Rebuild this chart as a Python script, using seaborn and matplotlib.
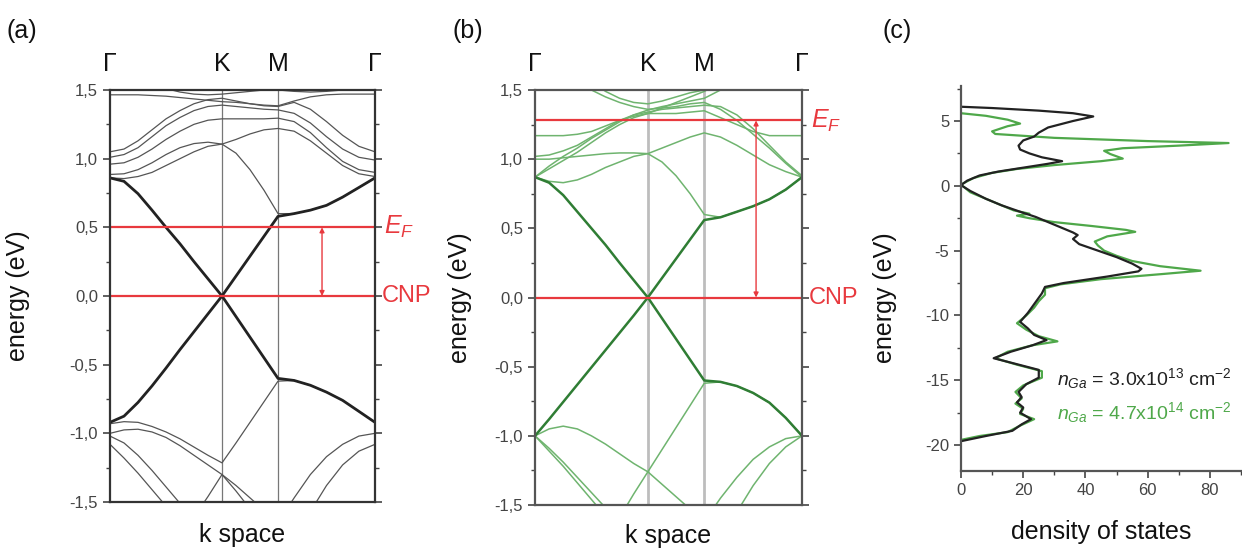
import matplotlib
matplotlib.use("Agg")
import matplotlib.pyplot as plt
from matplotlib.ticker import MultipleLocator, FuncFormatter
from matplotlib.transforms import blended_transform_factory
import pandas as pd
import seaborn as sns

sns.set_theme(style="ticks")
plt.rcParams["font.family"] = ["Liberation Sans", "DejaVu Sans"]
plt.rcParams["mathtext.fontset"] = "custom"
plt.rcParams["mathtext.rm"] = "Liberation Sans"
plt.rcParams["mathtext.it"] = "Liberation Sans:italic"
plt.rcParams["mathtext.bf"] = "Liberation Sans:bold"
plt.rcParams["axes.unicode_minus"] = False

# ---------------------------------------------------------------------------
# k path  Γ -> K -> M -> Γ  (|ΓK| = 1, |KM| = 0.5, |MΓ| = 0.866)
k_points = [0.0, 0.125, 0.25, 0.375, 0.5, 0.625, 0.75, 0.875, 1.0,
            1.125, 1.25, 1.375, 1.5,
            1.644, 1.789, 1.933, 2.077, 2.222, 2.366]
sym_k = [0.0, 1.0, 1.5, 2.366]
sym_labels = ["Γ", "K", "M", "Γ"]

# (a) low Ga coverage: Dirac bands and neighbouring bands (eV)
a_dirac_cb = [0.86, 0.835, 0.745, 0.625, 0.50, 0.38, 0.25, 0.125, 0.0,
              0.145, 0.29, 0.435, 0.58,
              0.60, 0.625, 0.66, 0.72, 0.79, 0.86]
a_dirac_vb = [-0.92, -0.875, -0.775, -0.655, -0.525, -0.39, -0.26, -0.13, 0.0,
              -0.15, -0.30, -0.45, -0.60,
              -0.615, -0.65, -0.70, -0.76, -0.84, -0.92]
a_bands = {
    "u1": [1.05, 1.07, 1.13, 1.21, 1.29, 1.35, 1.40, 1.43, 1.44,
           1.42, 1.40, 1.385, 1.38, 1.41, 1.36, 1.27, 1.17, 1.09, 1.05],
    "u2": [1.01, 1.03, 1.08, 1.16, 1.24, 1.30, 1.35, 1.38, 1.39,
           1.38, 1.37, 1.36, 1.355, 1.33, 1.26, 1.16, 1.07, 1.01, 0.99],
    "u3": [0.96, 0.97, 1.01, 1.07, 1.14, 1.20, 1.25, 1.28, 1.29,
           1.29, 1.29, 1.29, 1.295, 1.27, 1.19, 1.08, 0.98, 0.92, 0.90],
    "u4": [0.885, 0.89, 0.92, 0.97, 1.03, 1.08, 1.11, 1.12, 1.106,
           1.14, 1.18, 1.21, 1.22, 1.20, 1.13, 1.04, 0.95, 0.89, 0.87],
    "u5": [0.86, 0.855, 0.87, 0.90, 0.95, 1.00, 1.05, 1.09, 1.106,
           1.04, 0.92, 0.77, 0.60, 0.60, 0.625, 0.66, 0.72, 0.79, 0.86],
    "u6": [1.465, 1.465, 1.465, 1.46, 1.455, 1.445, 1.435, 1.425, 1.415,
           1.41, 1.40, 1.39, 1.385, 1.42, 1.45, 1.465, 1.47, 1.47, 1.47],
    "u7": [1.62, 1.60, 1.57, 1.54, 1.51, 1.485, 1.47, 1.465, 1.47,
           1.48, 1.49, 1.50, 1.50, 1.49, 1.485, 1.49, 1.50, 1.52, 1.55],
    "l1": [-0.93, -0.915, -0.92, -0.95, -0.99, -1.04, -1.10, -1.16, -1.215,
           -1.07, -0.92, -0.77, -0.62, -0.615, -0.65, -0.70, -0.76, -0.84, -0.92],
    "l2": [-1.00, -0.975, -0.97, -0.99, -1.03, -1.09, -1.16, -1.23, -1.30,
           -1.38, -1.47, -1.56, -1.65, -1.47, -1.30, -1.17, -1.08, -1.02, -1.00],
    "l3": [-1.02, -1.07, -1.16, -1.27, -1.39, -1.51, -1.63, -1.75, -1.87,
           -1.93, -1.98, -2.02, -2.05, -1.80, -1.57, -1.38, -1.23, -1.13, -1.08],
    "l4": [-1.08, -1.18, -1.29, -1.41, -1.53, -1.65, -1.77, -1.89, -2.01,
           -2.10, -2.20, -2.30, -2.40, -2.40, -2.35, -2.25, -2.10, -1.95, -1.80],
    "l5": [-2.55, -2.40, -2.24, -2.08, -1.93, -1.77, -1.61, -1.46, -1.30,
           -1.42, -1.55, -1.68, -1.80, -1.95, -2.10, -2.25, -2.40, -2.55, -2.70],
}

# (b) high Ga coverage
b_dirac_cb = [0.87, 0.83, 0.74, 0.62, 0.50, 0.38, 0.25, 0.125, 0.0,
              0.14, 0.28, 0.42, 0.56,
              0.58, 0.62, 0.66, 0.71, 0.78, 0.87]
b_dirac_vb = [-1.0, -0.88, -0.755, -0.63, -0.505, -0.38, -0.255, -0.13, 0.0,
              -0.15, -0.30, -0.45, -0.60,
              -0.61, -0.64, -0.69, -0.76, -0.87, -1.0]
b_bands = {
    "g1": [0.87, 0.95, 1.02, 1.08, 1.15, 1.21, 1.27, 1.32, 1.355,
           1.38, 1.40, 1.42, 1.44, 1.50, 1.56, 1.62, 1.68, 1.74, 1.80],
    "g2": [0.87, 0.93, 0.99, 1.05, 1.12, 1.19, 1.25, 1.30, 1.33,
           1.37, 1.41, 1.45, 1.49, 1.55, 1.62, 1.69, 1.76, 1.83, 1.90],
    "g3": [0.87, 0.84, 0.83, 0.85, 0.89, 0.94, 0.98, 1.02, 1.04,
           1.08, 1.12, 1.16, 1.19, 1.16, 1.10, 1.03, 0.96, 0.91, 0.87],
    "g4": [1.0, 1.0, 1.01, 1.02, 1.03, 1.04, 1.045, 1.045, 1.04,
           0.98, 0.88, 0.75, 0.60, 0.58, 0.62, 0.66, 0.71, 0.78, 0.87],
    "g5": [1.17, 1.17, 1.17, 1.18, 1.20, 1.24, 1.28, 1.31, 1.33,
           1.33, 1.33, 1.34, 1.35, 1.30, 1.25, 1.20, 1.17, 1.17, 1.17],
    "g6": [1.75, 1.70, 1.63, 1.56, 1.50, 1.45, 1.41, 1.38, 1.36,
           1.37, 1.38, 1.40, 1.41, 1.36, 1.28, 1.18, 1.08, 0.97, 0.87],
    "g7": [1.85, 1.80, 1.73, 1.65, 1.56, 1.49, 1.44, 1.41, 1.40,
           1.42, 1.45, 1.48, 1.50, 1.55, 1.60, 1.65, 1.70, 1.75, 1.80],
    "g8": [1.02, 1.03, 1.06, 1.10, 1.16, 1.22, 1.28, 1.32, 1.34,
           1.36, 1.37, 1.38, 1.39, 1.38, 1.32, 1.22, 1.10, 0.98, 0.88],
    "m1": [-1.0, -0.95, -0.93, -0.95, -1.0, -1.06, -1.13, -1.20, -1.26,
           -1.35, -1.44, -1.53, -1.62, -1.45, -1.30, -1.17, -1.08, -1.02, -1.0],
    "m2": [-2.56, -2.40, -2.24, -2.08, -1.91, -1.75, -1.59, -1.42, -1.26,
           -1.10, -0.94, -0.78, -0.62, -0.61, -0.64, -0.69, -0.76, -0.87, -1.0],
    "m3": [-1.0, -1.09, -1.19, -1.30, -1.41, -1.52, -1.63, -1.74, -1.85,
           -1.95, -2.05, -2.15, -2.20, -1.85, -1.55, -1.36, -1.20, -1.08, -1.0],
    "m4": [-1.0, -1.11, -1.22, -1.34, -1.46, -1.58, -1.70, -1.82, -1.94,
           -2.05, -2.15, -2.25, -2.35, -2.45, -2.55, -2.65, -2.75, -2.85, -2.95],
}

# Fermi levels and arrow positions
a_fermi = 0.5
b_fermi = 1.28
a_arrow_k = 1.893
b_arrow_k = 1.959

# (c) density of states (energy in eV, DOS in states/eV)
dos_e_low = [6.1, 6.0, 5.8, 5.6, 5.35, 5.0, 4.5, 4.1, 3.8, 3.5, 3.1, 2.8, 2.5,
             2.2, 1.9, 1.7, 1.4, 1.1, 0.8, 0.4, 0.05, -0.4, -1.0, -1.5, -2.0,
             -2.4, -2.8, -3.2, -3.6, -3.8, -4.1, -4.5, -5.0, -5.5, -6.0, -6.4,
             -6.6, -7.0, -7.5, -7.8, -8.3, -8.8, -9.3, -9.8, -10.5, -11.0,
             -11.5, -11.9, -12.3, -12.8, -13.3, -13.7, -14.2, -14.8, -15.3,
             -15.9, -16.3, -16.7, -17.1, -17.5, -18.0, -18.4, -18.9, -19.3,
             -19.7]
dos_low = [0, 10, 25, 36, 42.5, 36, 28, 25, 23.5, 20, 18.5, 19, 22,
           26, 32.5, 28, 20, 12, 6, 2, 0, 3, 8, 13, 19,
           24, 28, 32, 36, 37.5, 36, 38, 44, 50, 55, 58,
           57, 47, 33, 27, 26, 24.5, 23, 21.5, 19, 21.5,
           23.5, 27.5, 23, 16, 10.5, 17, 25, 25, 21,
           18.5, 19.5, 18, 20, 19, 22.5, 19.5, 16.5, 8,
           0]
dos_e_high = [5.6, 5.4, 5.1, 4.8, 4.6, 4.2, 4.0, 3.7, 3.45, 3.3, 3.1, 2.9,
              2.7, 2.45, 2.1, 1.9, 1.6, 1.3, 1.0, 0.6, 0.1, -0.5, -1.0, -1.5,
              -1.9, -2.15, -2.3, -2.5, -2.8, -3.1, -3.4, -3.55, -3.9, -4.3,
              -4.6, -5.0, -5.4, -5.8, -6.2, -6.55, -6.8, -7.2, -7.6, -7.9,
              -8.4, -8.9, -9.4, -10.0, -10.6, -11.1, -11.6, -12.0, -12.3,
              -12.8, -13.3, -13.8, -14.3, -14.8, -15.4, -15.9, -16.4, -16.8,
              -17.2, -17.6, -18.0, -18.5, -19.0, -19.3, -19.6]
dos_high = [0, 8, 15, 19, 15, 10, 11, 30, 60, 86, 70, 52,
            46, 48, 52, 45, 30, 18, 10, 4, 0, 3, 8, 13,
            17, 22, 18, 22, 30, 42, 53, 56, 47, 43,
            44, 46, 50, 55, 64, 77, 65, 45, 32, 27,
            27, 25, 23.5, 21, 18, 21, 25, 31, 23,
            15, 11, 18, 26, 26, 20, 17.5, 19.5, 17.5,
            20, 19, 23.5, 19, 15, 6, 0]
label_low = r"$n_{Ga}$ = 3.0x10$^{13}$ cm$^{-2}$"
label_high = r"$n_{Ga}$ = 4.7x10$^{14}$ cm$^{-2}$"

RED = "#e8393e"
TICK_COLOR = "#444444"
SPINE_COLOR = "#333333"


def band_frame(bands):
    rows = []
    for name, energies in bands.items():
        for k, e in zip(k_points, energies):
            rows.append({"band": name, "k": k, "E": e})
    return pd.DataFrame(rows)


def comma(v, _pos):
    return f"{v:.1f}".replace(".", ",")


def draw_panel(ax, thin, thick, thin_color, thick_color, thin_lw, thick_lw,
               sym_color, sym_lw, fermi, arrow_k, frame_color):
    ax.set_xlim(sym_k[0], sym_k[-1])
    ax.set_ylim(-1.5, 1.5)
    for k in sym_k[1:3]:
        ax.axvline(k, color=sym_color, lw=sym_lw, zorder=1)
    sns.lineplot(data=band_frame(thin), x="k", y="E", units="band",
                 estimator=None, sort=False, color=thin_color, lw=thin_lw,
                 legend=False, ax=ax, zorder=2)
    sns.lineplot(data=band_frame(thick), x="k", y="E", units="band",
                 estimator=None, sort=False, color=thick_color, lw=thick_lw,
                 legend=False, ax=ax, zorder=3)
    ax.axhline(fermi, color=RED, lw=1.6, zorder=4)
    ax.axhline(0.0, color=RED, lw=1.6, zorder=4)
    ax.annotate("", xy=(arrow_k, 0.0), xytext=(arrow_k, fermi),
                arrowprops=dict(arrowstyle="<|-|>", color=RED, lw=1.0,
                                mutation_scale=7, shrinkA=0, shrinkB=0),
                zorder=5)

    tr = blended_transform_factory(ax.transAxes, ax.transData)
    ax.text(1.035, fermi, r"$E_F$", transform=tr, color=RED, fontsize=18,
            ha="left", va="center")
    ax.text(1.025, 0.0, "CNP", transform=tr, color=RED, fontsize=17,
            ha="left", va="center")

    tt = blended_transform_factory(ax.transData, ax.transAxes)
    for k, lab in zip(sym_k, sym_labels):
        ax.text(k, 1.063, lab, transform=tt, fontsize=18, ha="center",
                va="center", color="#111111")

    ax.yaxis.set_major_locator(MultipleLocator(0.5))
    ax.yaxis.set_minor_locator(MultipleLocator(0.25))
    ax.yaxis.set_major_formatter(FuncFormatter(comma))
    ax.tick_params(axis="y", which="both", left=True, right=True,
                   direction="out", colors=TICK_COLOR, labelsize=12)
    ax.tick_params(axis="y", which="major", length=5, width=1.2)
    ax.tick_params(axis="y", which="minor", length=3, width=1.0)
    ax.tick_params(axis="x", which="both", bottom=False, top=False,
                   labelbottom=False)
    for s in ax.spines.values():
        s.set_color(frame_color)
        s.set_linewidth(1.6)
        s.set_zorder(6)
    ax.set_xlabel("k space", fontsize=18, color="#111111")
    ax.set_ylabel("energy (eV)", fontsize=18, color="#111111")


fig = plt.figure(figsize=(12.42, 5.49), dpi=100)
W, H = 1242.0, 549.0

ax_a = fig.add_axes([110 / W, 47 / H, 265 / W, 412 / H])
ax_b = fig.add_axes([535 / W, 44 / H, 267 / W, 415 / H])
ax_c = fig.add_axes([961 / W, 78 / H, 280 / W, 385 / H])

draw_panel(ax_a, a_bands, {"cb": a_dirac_cb, "vb": a_dirac_vb},
           "#555555", "#222222", 0.9, 2.0, "#777777", 0.9,
           a_fermi, a_arrow_k, SPINE_COLOR)
draw_panel(ax_b, b_bands, {"cb": b_dirac_cb, "vb": b_dirac_vb},
           "#6fb46f", "#2f7d34", 1.1, 1.8, "#bdbdbd", 2.0,
           b_fermi, b_arrow_k, "#555555")
ax_a.xaxis.set_label_coords(0.5, -0.052)
ax_a.yaxis.set_label_coords(-0.30, 0.5)
ax_b.xaxis.set_label_coords(0.5, -0.045)
ax_b.yaxis.set_label_coords(-0.236, 0.5)

# (c) density of states
sns.lineplot(x=dos_high, y=dos_e_high, sort=False, estimator=None,
             color="#4fa84a", lw=1.6, ax=ax_c)
sns.lineplot(x=dos_low, y=dos_e_low, sort=False, estimator=None,
             color="#222222", lw=1.6, ax=ax_c)
ax_c.set_xlim(0, 90)
ax_c.set_ylim(-22, 7.7)
ax_c.xaxis.set_major_locator(MultipleLocator(20))
ax_c.xaxis.set_minor_locator(MultipleLocator(10))
ax_c.yaxis.set_major_locator(MultipleLocator(5))
ax_c.yaxis.set_minor_locator(MultipleLocator(2.5))
ax_c.tick_params(which="both", direction="out", colors=TICK_COLOR,
                 labelsize=12)
ax_c.tick_params(which="major", length=5, width=1.2)
ax_c.tick_params(which="minor", length=3, width=1.0)
sns.despine(ax=ax_c)
for s in ("left", "bottom"):
    ax_c.spines[s].set_color("#555555")
    ax_c.spines[s].set_linewidth(1.6)
ax_c.set_xlabel("density of states", fontsize=18, color="#111111")
ax_c.set_ylabel("energy (eV)", fontsize=18, color="#111111")
ax_c.xaxis.set_label_coords(0.5, -0.128)
ax_c.yaxis.set_label_coords(-0.229, 0.449)
ax_c.text(31, -14.9, label_low, fontsize=14, color="#222222",
          ha="left", va="center")
ax_c.text(31, -17.5, label_high, fontsize=14, color="#4fa84a",
          ha="left", va="center")

for x, lab in ((7, "(a)"), (452, "(b)"), (882, "(c)")):
    fig.text(x / W, 1 - 31 / H, lab, fontsize=18, ha="left", va="center",
             color="#111111")

fig.savefig("out.png", dpi=100)
